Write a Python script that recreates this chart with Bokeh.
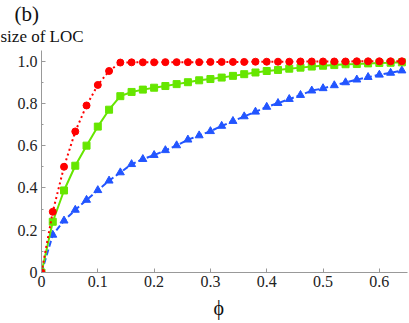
from bokeh.plotting import figure
from bokeh.models import Range1d, FixedTicker, Title
from bokeh.embed import file_html
from bokeh.resources import INLINE

phi = [round(0.02 * i, 2) for i in range(33)]

red = [0.0, 0.287, 0.50, 0.667, 0.79, 0.887, 0.953, 0.993, 0.994, 0.994, 0.994,
       0.995, 0.995, 0.995, 0.995, 0.996, 0.996, 0.996, 0.996, 0.997, 0.997, 0.997,
       0.997, 0.998, 0.998, 0.998, 0.998, 0.998, 0.999, 0.999, 0.999, 0.999, 0.999]

green = [0.0, 0.24, 0.388, 0.505, 0.60, 0.69, 0.77, 0.834, 0.854, 0.865, 0.874,
         0.882, 0.891, 0.90, 0.909, 0.915, 0.922, 0.93, 0.938, 0.946, 0.953, 0.958,
         0.964, 0.969, 0.974, 0.978, 0.981, 0.985, 0.986, 0.989, 0.991, 0.992, 0.994]

blue = [0.0, 0.178, 0.245, 0.296, 0.343, 0.389, 0.434, 0.473, 0.512, 0.536, 0.555,
        0.578, 0.601, 0.628, 0.648, 0.668, 0.693, 0.716, 0.738, 0.76, 0.783, 0.801,
        0.82, 0.839, 0.86, 0.871, 0.885, 0.899, 0.912, 0.924, 0.935, 0.944, 0.955]

x_ticks = [0, 0.1, 0.2, 0.3, 0.4, 0.5, 0.6]
x_labels = ["0", "0.1", "0.2", "0.3", "0.4", "0.5", "0.6"]
y_ticks = [0, 0.2, 0.4, 0.6, 0.8, 1.0]
y_labels = ["0", "0.2", "0.4", "0.6", "0.8", "1.0"]
y_minor = [0.1, 0.3, 0.5, 0.7, 0.9]

FONT = "Liberation Serif"

p = figure(width=409, height=323, output_backend="svg", toolbar_location=None,
           x_range=Range1d(0, 0.65), y_range=Range1d(0, 1.05),
           min_border_left=41, min_border_right=2, min_border_top=50, min_border_bottom=47)
p.outline_line_color = None
p.grid.visible = False
p.background_fill_color = "white"

for ax in (p.xaxis[0], p.yaxis[0]):
    ax.axis_line_color = "#999999"
    ax.major_tick_line_color = "#999999"
    ax.minor_tick_line_color = "#999999"
    ax.major_tick_in = 4
    ax.major_tick_out = 0
    ax.minor_tick_in = 2
    ax.minor_tick_out = 0
    ax.major_label_text_font = FONT
    ax.major_label_text_font_size = "16px"
    ax.major_label_text_color = "#222222"

p.xaxis.ticker = FixedTicker(ticks=x_ticks, minor_ticks=[])
p.xaxis.major_label_overrides = {t: l for t, l in zip(x_ticks, x_labels)}
p.xaxis.major_label_standoff = 3

p.yaxis.ticker = FixedTicker(ticks=y_ticks, minor_ticks=y_minor)
p.yaxis.major_label_overrides = {t: l for t, l in zip(y_ticks, y_labels)}
p.yaxis.major_label_standoff = 4

t1 = Title(text="size of LOC", text_font=FONT, text_font_size="17px",
           text_font_style="normal", align="left", offset=-41, text_color="#111111",
           vertical_align="top", standoff=5)
t2 = Title(text="(b)", text_font=FONT, text_font_size="21px",
           text_font_style="normal", align="left", offset=-27, text_color="#111111",
           vertical_align="bottom", standoff=-2)
p.add_layout(t1, "above")
p.add_layout(t2, "above")

t3 = Title(text="\u03d5", text_font=FONT, text_font_size="20px",
           text_font_style="normal", align="left", offset=172, text_color="#111111",
           vertical_align="bottom", standoff=10)
p.add_layout(t3, "below")

# blue dashed with triangles
p.line(phi, blue, line_color="#2255FF", line_width=2, line_dash="6 3")
p.scatter(phi, blue, marker="triangle", size=8, fill_color="#2255FF", line_color="#2255FF")
# green solid with squares
p.line(phi, green, line_color="#66E600", line_width=2)
p.scatter(phi, green, marker="square", size=7, fill_color="#66E600", line_color="#66E600")
# red dotted with circles
p.line(phi, red, line_color="#FF0000", line_width=2, line_dash="2 3")
p.scatter(phi, red, marker="circle", size=7, fill_color="#FF0000", line_color="#FF0000")

open("out.html", "w").write(file_html(p, INLINE))
